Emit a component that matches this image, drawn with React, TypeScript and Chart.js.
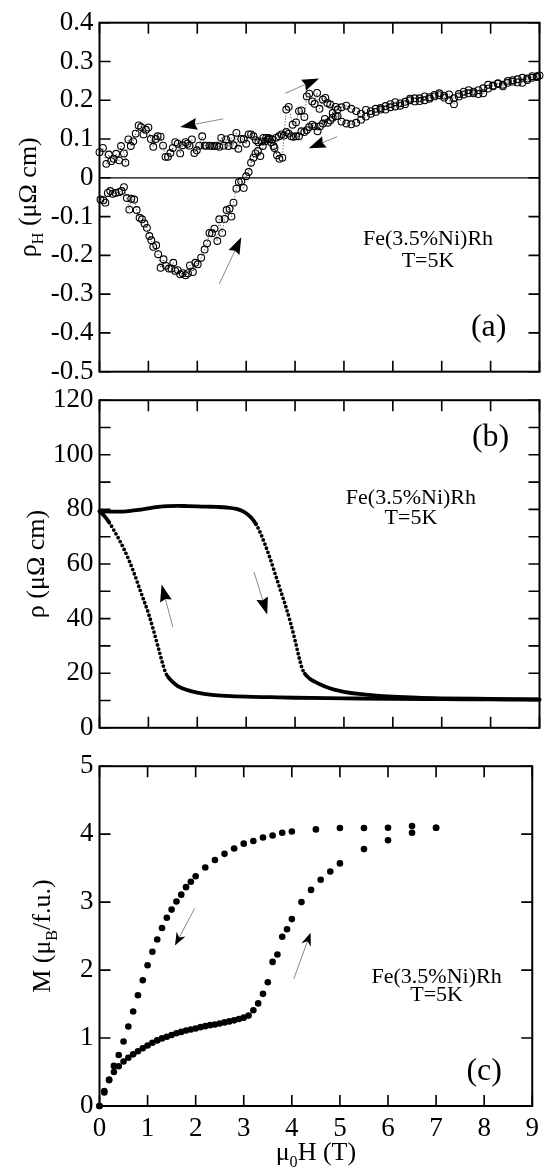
import React, { useEffect, useRef } from "react";
import { Chart, registerables } from "chart.js";

Chart.register(...registerables);

const FONT = "'Liberation Serif', 'Times New Roman', Times, serif";
Chart.defaults.font.family = FONT;

// ---------- shared field axis ----------
const FIELD_MIN = 0;
const FIELD_MAX = 9;
const FIELD_STEP = 1;

// ---------- (a) Hall resistivity, field increasing ----------
const hallUpH = [0.02, 0.08, 0.12, 0.17, 0.22, 0.27, 0.33, 0.40, 0.45, 0.50, 0.56, 0.61, 0.65, 0.71, 0.76, 0.82, 0.87, 0.92, 0.97, 1.02, 1.06, 1.10, 1.16, 1.20, 1.25, 1.31, 1.36, 1.42, 1.47, 1.51, 1.55, 1.60, 1.65, 1.70, 1.76, 1.81, 1.85, 1.91, 1.96, 2.01, 2.08, 2.15, 2.20, 2.25, 2.30, 2.35, 2.41, 2.45, 2.51, 2.56, 2.60, 2.66, 2.70, 2.74, 2.80, 2.85, 2.90, 2.95, 3.00, 3.05, 3.10, 3.15, 3.19, 3.24, 3.29, 3.34, 3.39, 3.44, 3.48, 3.53, 3.58, 3.63, 3.68, 3.74, 3.82, 3.87, 3.95, 4.02, 4.08, 4.13, 4.19, 4.24, 4.29, 4.35, 4.40, 4.45, 4.50, 4.57, 4.62, 4.66, 4.72, 4.77, 4.83, 4.87, 4.95, 5.05, 5.15, 5.25, 5.35, 5.45, 5.55, 5.65, 5.75, 5.85, 5.95, 6.05, 6.15, 6.25, 6.35, 6.45, 6.55, 6.65, 6.75, 6.85, 6.95, 7.05, 7.15, 7.25, 7.35, 7.45, 7.55, 7.65, 7.75, 7.85, 7.95, 8.05, 8.15, 8.25, 8.35, 8.45, 8.55, 8.65, 8.75, 8.85, 8.95, 9.0];
const hallUpV = [-0.056, -0.058, -0.064, -0.039, -0.034, -0.041, -0.039, -0.037, -0.034, -0.024, -0.052, -0.082, -0.054, -0.056, -0.083, -0.103, -0.107, -0.118, -0.129, -0.150, -0.161, -0.178, -0.174, -0.197, -0.232, -0.210, -0.227, -0.234, -0.234, -0.219, -0.240, -0.238, -0.249, -0.246, -0.251, -0.246, -0.226, -0.243, -0.219, -0.223, -0.206, -0.185, -0.169, -0.142, -0.143, -0.131, -0.163, -0.107, -0.142, -0.106, -0.083, -0.080, -0.100, -0.064, -0.028, -0.011, -0.009, -0.026, 0.004, 0.015, 0.039, 0.052, 0.063, 0.069, 0.056, 0.082, 0.094, 0.099, 0.100, 0.099, 0.077, 0.058, 0.049, 0.052, 0.176, 0.183, 0.137, 0.143, 0.172, 0.174, 0.157, 0.210, 0.217, 0.197, 0.191, 0.219, 0.178, 0.202, 0.206, 0.193, 0.189, 0.167, 0.183, 0.176, 0.182, 0.186, 0.178, 0.172, 0.165, 0.175, 0.172, 0.178, 0.176, 0.185, 0.190, 0.184, 0.192, 0.196, 0.200, 0.197, 0.205, 0.200, 0.208, 0.210, 0.213, 0.207, 0.200, 0.190, 0.210, 0.222, 0.226, 0.218, 0.216, 0.218, 0.230, 0.238, 0.242, 0.236, 0.245, 0.252, 0.246, 0.245, 0.256, 0.258, 0.262, 0.264];

// ---------- (a) Hall resistivity, field decreasing ----------
const hallDownH = [0.00, 0.07, 0.14, 0.19, 0.24, 0.29, 0.34, 0.40, 0.44, 0.50, 0.53, 0.59, 0.64, 0.69, 0.74, 0.80, 0.85, 0.90, 0.95, 1.00, 1.05, 1.10, 1.15, 1.19, 1.25, 1.30, 1.35, 1.40, 1.45, 1.50, 1.55, 1.60, 1.65, 1.70, 1.76, 1.80, 1.84, 1.89, 1.94, 1.99, 2.04, 2.10, 2.15, 2.19, 2.25, 2.30, 2.35, 2.40, 2.45, 2.49, 2.54, 2.59, 2.64, 2.69, 2.74, 2.80, 2.84, 2.90, 2.95, 3.00, 3.05, 3.10, 3.15, 3.20, 3.25, 3.31, 3.35, 3.41, 3.46, 3.51, 3.56, 3.61, 3.67, 3.72, 3.77, 3.82, 3.87, 3.92, 3.97, 4.02, 4.08, 4.13, 4.19, 4.24, 4.29, 4.35, 4.40, 4.46, 4.51, 4.57, 4.61, 4.67, 4.72, 4.77, 4.83, 4.87, 4.95, 5.05, 5.15, 5.25, 5.35, 5.45, 5.55, 5.65, 5.75, 5.85, 5.95, 6.05, 6.15, 6.25, 6.35, 6.45, 6.55, 6.65, 6.75, 6.85, 6.95, 7.05, 7.15, 7.25, 7.35, 7.45, 7.55, 7.65, 7.75, 7.85, 7.95, 8.05, 8.15, 8.25, 8.35, 8.45, 8.55, 8.65, 8.75, 8.85, 8.95];
const hallDownV = [0.066, 0.077, 0.036, 0.060, 0.043, 0.049, 0.062, 0.045, 0.082, 0.063, 0.039, 0.099, 0.082, 0.094, 0.114, 0.135, 0.131, 0.112, 0.124, 0.130, 0.100, 0.080, 0.100, 0.107, 0.106, 0.083, 0.054, 0.054, 0.064, 0.077, 0.092, 0.088, 0.063, 0.084, 0.092, 0.088, 0.083, 0.099, 0.064, 0.071, 0.083, 0.107, 0.083, 0.083, 0.083, 0.082, 0.082, 0.083, 0.080, 0.103, 0.083, 0.099, 0.082, 0.103, 0.084, 0.116, 0.075, 0.100, 0.100, 0.088, 0.112, 0.112, 0.107, 0.097, 0.092, 0.094, 0.103, 0.103, 0.103, 0.092, 0.082, 0.103, 0.107, 0.112, 0.109, 0.118, 0.114, 0.107, 0.106, 0.107, 0.107, 0.120, 0.118, 0.123, 0.131, 0.137, 0.133, 0.120, 0.133, 0.140, 0.152, 0.142, 0.148, 0.155, 0.159, 0.159, 0.145, 0.140, 0.138, 0.142, 0.150, 0.158, 0.165, 0.170, 0.180, 0.176, 0.182, 0.195, 0.186, 0.190, 0.204, 0.205, 0.198, 0.210, 0.204, 0.214, 0.218, 0.212, 0.215, 0.205, 0.216, 0.215, 0.218, 0.222, 0.226, 0.231, 0.240, 0.236, 0.244, 0.240, 0.250, 0.248, 0.254, 0.258, 0.252, 0.262, 0.260];

// ---------- (b) resistivity ----------
const rhoUpH = [0.0, 0.2, 0.4, 0.6, 0.8, 1.0, 1.2, 1.4, 1.6, 1.8, 2.0, 2.2, 2.4, 2.6, 2.8, 2.9, 3.0, 3.1, 3.2, 3.3, 3.4, 3.5, 3.6, 3.7, 3.8, 3.9, 4.0, 4.1, 4.15, 4.2, 4.3, 4.4, 4.6, 4.8, 5.0, 5.3, 5.6, 6.0, 6.5, 7.0, 8.0, 9.0];
const rhoUpV = [79.3, 79.2, 79.2, 79.4, 79.8, 80.4, 80.9, 81.2, 81.3, 81.2, 81.1, 81.0, 80.9, 80.7, 80.2, 79.6, 78.6, 77.0, 74.6, 71.0, 66.5, 61.5, 56.0, 50.5, 45.0, 39.0, 32.0, 24.5, 21.5, 19.8, 18.0, 16.9, 15.2, 14.0, 13.2, 12.4, 11.9, 11.4, 11.0, 10.8, 10.6, 10.4];
const rhoDownH = [0.0, 0.1, 0.2, 0.3, 0.4, 0.5, 0.6, 0.7, 0.8, 0.9, 1.0, 1.1, 1.2, 1.3, 1.35, 1.4, 1.5, 1.6, 1.8, 2.0, 2.3, 2.6, 3.0, 3.5, 4.0, 5.0, 6.0, 7.0, 8.0, 9.0];
const rhoDownV = [79.3, 77.6, 75.2, 72.2, 69.0, 65.5, 61.5, 57.0, 52.0, 47.0, 42.0, 36.0, 29.5, 23.0, 20.3, 18.7, 16.7, 15.3, 13.8, 12.9, 12.1, 11.7, 11.4, 11.2, 11.0, 10.8, 10.6, 10.5, 10.4, 10.3];

// ---------- (c) magnetisation ----------
const magUpH = [0.0, 0.1, 0.2, 0.3, 0.4, 0.5, 0.6, 0.7, 0.8, 0.9, 1.0, 1.1, 1.2, 1.3, 1.4, 1.5, 1.6, 1.7, 1.8, 1.9, 2.0, 2.1, 2.2, 2.3, 2.4, 2.5, 2.6, 2.7, 2.8, 2.9, 3.0, 3.1, 3.2, 3.3, 3.4, 3.5, 3.6, 3.7, 3.8, 3.9, 4.0, 4.2, 4.4, 4.6, 4.8, 5.0, 5.5, 6.0, 6.5, 7.0];
const magUpV = [0.0, 0.22, 0.38, 0.50, 0.585, 0.655, 0.71, 0.76, 0.805, 0.85, 0.89, 0.93, 0.965, 0.995, 1.02, 1.045, 1.07, 1.09, 1.11, 1.125, 1.14, 1.16, 1.175, 1.19, 1.20, 1.215, 1.23, 1.245, 1.26, 1.28, 1.30, 1.33, 1.41, 1.51, 1.65, 1.82, 2.12, 2.23, 2.49, 2.60, 2.75, 3.0, 3.18, 3.33, 3.45, 3.57, 3.78, 3.91, 4.02, 4.095];
const magDownH = [0.0, 0.1, 0.2, 0.3, 0.4, 0.5, 0.6, 0.7, 0.8, 0.9, 1.0, 1.1, 1.2, 1.3, 1.4, 1.5, 1.6, 1.7, 1.8, 1.9, 2.0, 2.2, 2.4, 2.6, 2.8, 3.0, 3.2, 3.4, 3.6, 3.8, 4.0, 4.5, 5.0, 5.5, 6.0, 6.5, 7.0];
const magDownV = [0.0, 0.20, 0.39, 0.59, 0.75, 0.95, 1.17, 1.39, 1.63, 1.85, 2.07, 2.27, 2.45, 2.62, 2.77, 2.89, 3.01, 3.11, 3.22, 3.30, 3.38, 3.51, 3.62, 3.71, 3.79, 3.86, 3.90, 3.95, 3.98, 4.02, 4.04, 4.07, 4.09, 4.09, 4.095, 4.12, 4.095];

// ---------- axis ranges ----------
const hallRange = [-0.5, 0.4];
const rhoRange = [0, 120];
const magRange = [0, 5];

// ---------- annotation text ----------
const sampleLine1 = "Fe(3.5%Ni)Rh";
const sampleLine2 = "T=5K";

const zip = (xs: number[], ys: number[]) => xs.map((x, i) => ({ x, y: ys[i] }));

type Part = { t: string; sub?: boolean };

function drawParts(ctx: CanvasRenderingContext2D, parts: Part[], size: number, x: number, y: number) {
  const sub = size * 0.62;
  let total = 0;
  const widths = parts.map((p) => {
    ctx.font = `${p.sub ? sub : size}px ${FONT}`;
    const w = ctx.measureText(p.t).width;
    total += w;
    return w;
  });
  let cx = x - total / 2;
  parts.forEach((p, i) => {
    ctx.font = `${p.sub ? sub : size}px ${FONT}`;
    ctx.fillText(p.t, cx, p.sub ? y + size * 0.28 : y);
    cx += widths[i];
  });
}

function drawArrow(ctx: CanvasRenderingContext2D, x1: number, y1: number, x2: number, y2: number, len: number, half: number, notch: number) {
  const a = Math.atan2(y2 - y1, x2 - x1);
  const c = Math.cos(a), s = Math.sin(a);
  const bx = x2 - len * c, by = y2 - len * s;
  ctx.strokeStyle = "#8a8a8a";
  ctx.lineWidth = 1;
  ctx.beginPath();
  ctx.moveTo(x1, y1);
  ctx.lineTo(bx + notch * len * c, by + notch * len * s);
  ctx.stroke();
  ctx.fillStyle = "#000";
  ctx.beginPath();
  ctx.moveTo(x2, y2);
  ctx.lineTo(bx + half * s, by - half * c);
  ctx.lineTo(bx + notch * len * c, by + notch * len * s);
  ctx.lineTo(bx - half * s, by + half * c);
  ctx.closePath();
  ctx.fill();
}

type Spec = {
  top: number;
  height: number;
  padTop: number;
  xAxisH: number;
  yMin: number;
  yMax: number;
  yStep: number;
  yLabel: (v: number) => string;
  showX: boolean;
  datasets: any[];
  zero?: boolean;
  texts: { x: number; y: number; t: string; size: number }[];
  arrows: { x1: number; y1: number; x2: number; y2: number; len: number; half: number; notch: number }[];
  yTitle: { parts: Part[]; x: number; size: number };
  xTitle?: { parts: Part[]; y: number; size: number };
};

const TICK = 11;

function makePlugin(spec: Spec) {
  return {
    id: "deco",
    beforeDatasetsDraw(chart: any) {
      if (!spec.zero) return;
      const { ctx, chartArea: a, scales } = chart;
      const py = scales.y.getPixelForValue(0);
      ctx.save();
      ctx.strokeStyle = "#000";
      ctx.lineWidth = 1.3;
      ctx.beginPath();
      ctx.moveTo(a.left, py);
      ctx.lineTo(a.right, py);
      ctx.stroke();
      ctx.restore();
    },
    afterDatasetsDraw(chart: any) {
      const { ctx, chartArea: a, scales } = chart;
      const xs = scales.x, ys = scales.y;
      ctx.save();
      ctx.strokeStyle = "#000";
      ctx.lineWidth = 1.6;
      ctx.beginPath();
      xs.ticks.forEach((t: any) => {
        const px = xs.getPixelForValue(t.value);
        ctx.moveTo(px, a.bottom);
        ctx.lineTo(px, a.bottom - TICK);
        ctx.moveTo(px, a.top);
        ctx.lineTo(px, a.top + TICK);
      });
      ys.ticks.forEach((t: any) => {
        const py = ys.getPixelForValue(t.value);
        ctx.moveTo(a.left, py);
        ctx.lineTo(a.left + TICK, py);
        ctx.moveTo(a.right, py);
        ctx.lineTo(a.right - TICK, py);
      });
      ctx.stroke();
      ctx.lineWidth = 2;
      ctx.strokeRect(a.left, a.top, a.right - a.left, a.bottom - a.top);

      spec.arrows.forEach((ar) => {
        drawArrow(
          ctx,
          xs.getPixelForValue(ar.x1), ys.getPixelForValue(ar.y1),
          xs.getPixelForValue(ar.x2), ys.getPixelForValue(ar.y2),
          ar.len, ar.half, ar.notch
        );
      });

      ctx.fillStyle = "#000";
      ctx.textBaseline = "alphabetic";
      ctx.textAlign = "left";
      spec.texts.forEach((tx) => {
        drawParts(ctx, [{ t: tx.t }], tx.size, xs.getPixelForValue(tx.x), ys.getPixelForValue(tx.y));
      });

      ctx.save();
      ctx.translate(spec.yTitle.x, (a.top + a.bottom) / 2);
      ctx.rotate(-Math.PI / 2);
      drawParts(ctx, spec.yTitle.parts, spec.yTitle.size, 0, 0);
      ctx.restore();

      if (spec.xTitle) {
        drawParts(ctx, spec.xTitle.parts, spec.xTitle.size, (a.left + a.right) / 2, spec.xTitle.y);
      }
      ctx.restore();
    },
  };
}

function buildChart(canvas: HTMLCanvasElement, spec: Spec) {
  const tickFont = { family: FONT, size: 27 };
  return new Chart(canvas, {
    type: "scatter",
    data: { datasets: spec.datasets },
    options: {
      animation: false,
      responsive: false,
      devicePixelRatio: 1,
      layout: { padding: { top: spec.padTop, right: 6.5, left: 0, bottom: 0 } },
      plugins: { legend: { display: false }, tooltip: { enabled: false } },
      events: [],
      scales: {
        x: {
          type: "linear",
          min: FIELD_MIN,
          max: FIELD_MAX,
          ticks: {
            stepSize: FIELD_STEP,
            display: spec.showX,
            font: tickFont,
            color: "#000",
            padding: 7,
            autoSkip: false,
            maxRotation: 0,
          },
          grid: { display: false, drawTicks: false },
          border: { display: false },
          afterFit: (s: any) => {
            s.height = spec.xAxisH;
          },
        },
        y: {
          type: "linear",
          min: spec.yMin,
          max: spec.yMax,
          ticks: {
            stepSize: spec.yStep,
            font: tickFont,
            color: "#000",
            padding: 6,
            autoSkip: false,
            callback: (v: any) => spec.yLabel(Number(v)),
          },
          grid: { display: false, drawTicks: false },
          border: { display: false },
          afterFit: (s: any) => {
            s.width = 99.5;
          },
        },
      },
    } as any,
    plugins: [makePlugin(spec) as any],
  });
}

const hallLabel = (v: number) => (Math.abs(v) < 1e-9 ? "0" : v.toFixed(1));
const rhoLabel = (v: number) => (Math.round(v) % 20 === 0 ? String(Math.round(v)) : "");
const magLabel = (v: number) => String(Math.round(v));

const steep = (ctx: any) => {
  const dx = Math.abs(ctx.p1.x - ctx.p0.x);
  const dy = Math.abs(ctx.p1.y - ctx.p0.y);
  return dy > 1.6 * dx ? [0, 4.4] : undefined;
};

const specs: Spec[] = [
  {
    top: 0,
    height: 395,
    padTop: 22.7,
    xAxisH: 395 - 371.7,
    yMin: hallRange[0],
    yMax: hallRange[1],
    yStep: 0.1,
    yLabel: hallLabel,
    showX: false,
    zero: true,
    datasets: [hallUpH, hallDownH].map((hs, i) => ({
      data: zip(hs, i === 0 ? hallUpV : hallDownV),
      showLine: true,
      borderColor: "#000",
      borderWidth: 0.8,
      borderDash: [1, 2],
      pointRadius: 3.4,
      pointBorderColor: "#000",
      pointBackgroundColor: "rgba(0,0,0,0)",
      pointBorderWidth: 1.1,
      clip: false,
    })),
    texts: [
      { x: 6.72, y: -0.173, t: sampleLine1, size: 22 },
      { x: 6.72, y: -0.229, t: sampleLine2, size: 22 },
      { x: 7.96, y: -0.408, t: "(a)", size: 32 },
    ],
    arrows: [
      { x1: 2.53, y1: 0.152, x2: 1.65, y2: 0.131, len: 17, half: 6, notch: 0.12 },
      { x1: 2.45, y1: -0.274, x2: 2.9, y2: -0.153, len: 17, half: 6, notch: 0.12 },
      { x1: 3.8, y1: 0.218, x2: 4.49, y2: 0.256, len: 17, half: 6, notch: 0.12 },
      { x1: 4.86, y1: 0.106, x2: 4.28, y2: 0.076, len: 17, half: 6, notch: 0.12 },
    ],
    yTitle: { parts: [{ t: "ρ" }, { t: "H", sub: true }, { t: " (μΩ cm)" }], x: 36, size: 26 },
  },
  {
    top: 378,
    height: 372,
    padTop: 388.3 - 378,
    xAxisH: 750 - 736.3,
    yMin: rhoRange[0],
    yMax: rhoRange[1],
    yStep: 10,
    yLabel: rhoLabel,
    showX: false,
    datasets: [zip(rhoUpH, rhoUpV), zip(rhoDownH, rhoDownV)].map((d) => ({
      data: d,
      showLine: true,
      borderColor: "#000",
      borderWidth: 3.8,
      borderCapStyle: "round",
      borderJoinStyle: "round",
      cubicInterpolationMode: "monotone",
      pointRadius: 0,
      segment: { borderDash: steep },
      clip: false,
    })),
    texts: [
      { x: 6.37, y: 81.8, t: sampleLine1, size: 22 },
      { x: 6.37, y: 74.6, t: sampleLine2, size: 22 },
      { x: 8.0, y: 103.2, t: "(b)", size: 32 },
    ],
    arrows: [
      { x1: 1.5, y1: 36.9, x2: 1.27, y2: 52.5, len: 17, half: 6, notch: 0.12 },
      { x1: 3.16, y1: 57.1, x2: 3.43, y2: 41.5, len: 17, half: 6, notch: 0.12 },
    ],
    yTitle: { parts: [{ t: "ρ (μΩ cm)" }], x: 44, size: 26 },
  },
  {
    top: 744,
    height: 430,
    padTop: 755 - 744,
    xAxisH: 1174 - 1106,
    yMin: magRange[0],
    yMax: magRange[1],
    yStep: 1,
    yLabel: magLabel,
    showX: true,
    datasets: [zip(magUpH, magUpV), zip(magDownH, magDownV)].map((d) => ({
      data: d,
      showLine: false,
      pointRadius: 3.3,
      pointBackgroundColor: "#000",
      pointBorderColor: "#000",
      pointBorderWidth: 0,
      clip: false,
    })),
    texts: [
      { x: 7.01, y: 1.81, t: sampleLine1, size: 22 },
      { x: 7.01, y: 1.54, t: sampleLine2, size: 22 },
      { x: 8.0, y: 0.385, t: "(c)", size: 32 },
    ],
    arrows: [
      { x1: 1.98, y1: 2.91, x2: 1.57, y2: 2.36, len: 13, half: 5, notch: 0.3 },
      { x1: 4.04, y1: 1.87, x2: 4.39, y2: 2.55, len: 13, half: 5, notch: 0.3 },
    ],
    yTitle: { parts: [{ t: "M (μ" }, { t: "B", sub: true }, { t: "/f.u.)" }], x: 50, size: 26 },
    xTitle: { parts: [{ t: "μ" }, { t: "0", sub: true }, { t: "H (T)" }], y: 1160 - 744, size: 26 },
  },
];

export default function App() {
  const refs = [useRef<HTMLCanvasElement>(null), useRef<HTMLCanvasElement>(null), useRef<HTMLCanvasElement>(null)];
  useEffect(() => {
    const charts = specs.map((s, i) => buildChart(refs[i].current as HTMLCanvasElement, s));
    return () => charts.forEach((c) => c.destroy());
  }, []);
  return (
    <div style={{ position: "absolute", left: 0, top: 0, width: 546, height: 1174, background: "#fff", overflow: "hidden" }}>
      {specs.map((s, i) => (
        <canvas
          key={i}
          ref={refs[i]}
          width={546}
          height={s.height}
          style={{ position: "absolute", left: 0, top: s.top, width: 546, height: s.height }}
        />
      ))}
    </div>
  );
}
